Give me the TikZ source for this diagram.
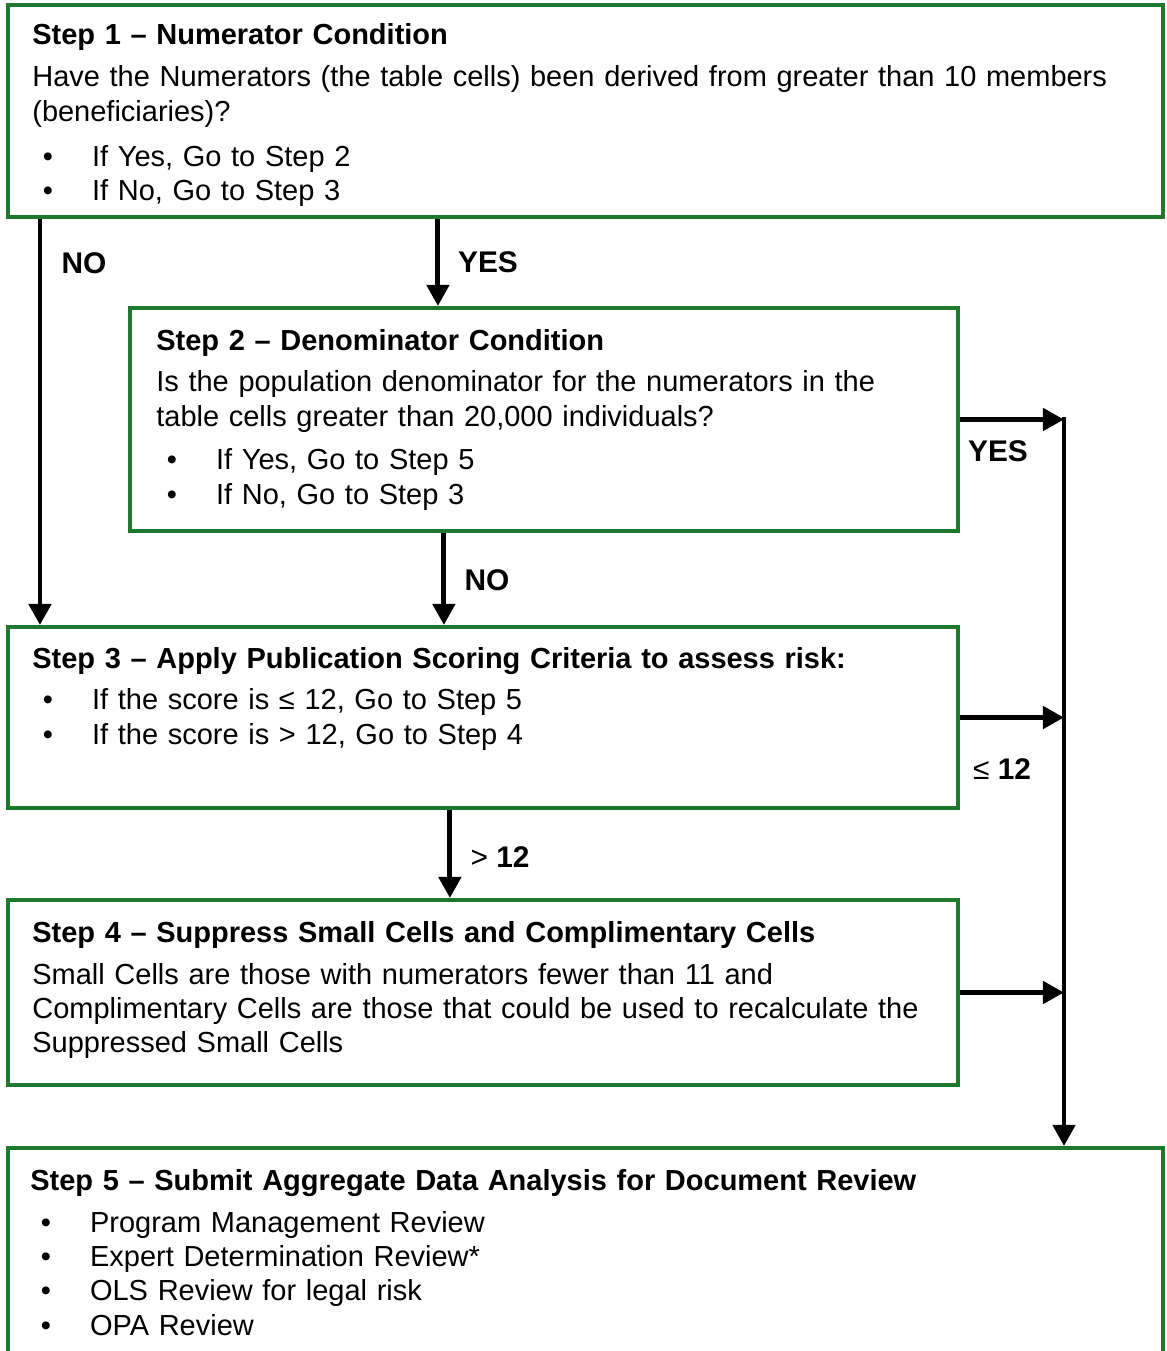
\documentclass[tikz,border=0pt]{standalone}
\usepackage{fontspec}
\setmainfont{Liberation Sans}
\usetikzlibrary{positioning,fit,arrows.meta}
\definecolor{boxgreen}{RGB}{30,120,45}
\newcommand{\bitem}{\hspace*{6pt}\makebox[28pt][l]{\textbullet}}
\tikzset{
  stepbox/.style={draw=boxgreen, line width=2.3pt, inner sep=0pt},
  steptext/.style={anchor=base west, inner sep=0pt, text width=22.5cm, align=left,
    font=\fontsize{16.5}{19.6}\selectfont},
  arr/.style={line width=2.8pt, -{Triangle[length=12pt,width=12.5pt]}},
  lbl/.style={font=\fontsize{17}{20}\selectfont\bfseries},
}
\begin{document}
\begin{tikzpicture}[x=0.02cm, y=-0.02cm]
      \useasboundingbox (0,0) rectangle (1166,1351);

      % boxes
      \node[stepbox, fit={(8,5) (1163,217)}] (s1) {};
      \node[stepbox, fit={(130,308) (958,531)}] (s2) {};
      \node[stepbox, fit={(8,627) (958,808)}] (s3) {};
      \node[stepbox, fit={(8,900) (958,1085)}] (s4) {};
      \node[stepbox, fit={(8,1148) (1163,1380)}] (s5) {};

      % texts
      \node[steptext] (t1) at (32,45) {\textbf{Step 1 -- Numerator Condition}\\[4.3pt]
        Have the Numerators (the table cells) been derived from greater than 10 members\\
        (beneficiaries)?\\[6pt]
        \bitem If Yes, Go to Step 2\\
        \bitem If No, Go to Step 3};
      \node[steptext] (t2) at (156,350) {\textbf{Step 2 -- Denominator Condition}\\[4.3pt]
        Is the population denominator for the numerators in the\\
        table cells greater than 20,000 individuals?\\[5pt]
        \bitem If Yes, Go to Step 5\\
        \bitem If No, Go to Step 3};
      \node[steptext] (t3) at (32,668) {\textbf{Step 3 -- Apply Publication Scoring Criteria to assess risk:}\\[4.3pt]
        \bitem If the score is ≤ 12, Go to Step 5\\
        \bitem If the score is > 12, Go to Step 4};
      \node[steptext] (t4) at (32,942) {\textbf{Step 4 -- Suppress Small Cells and Complimentary Cells}\\[4.3pt]
        Small Cells are those with numerators fewer than 11 and\\
        Complimentary Cells are those that could be used to recalculate the\\
        Suppressed Small Cells};
      \node[steptext] (t5) at (30,1190) {\textbf{Step 5 -- Submit Aggregate Data Analysis for Document Review}\\[4.3pt]
        \bitem Program Management Review\\
        \bitem Expert Determination Review*\\
        \bitem OLS Review for legal risk\\
        \bitem OPA Review};

      % arrows down
      \path ([xshift=0.68cm]s3.north west) coordinate (noleft);
      \path ([xshift=6.2cm]s2.north west) coordinate (yesin);
      \path ([xshift=8.76cm]s3.north west) coordinate (noin);
      \path ([xshift=8.88cm]s4.north west) coordinate (gtin);
      \draw[arr] (s1.south -| noleft) -- (noleft);
      \draw[arr] (s1.south -| yesin) -- (yesin);
      \draw[arr] (s2.south -| noin) -- (noin);
      \draw[arr] (s3.south -| gtin) -- (gtin);

      % arrows right to step 5
      \path ([xshift=2.08cm]s2.east) coordinate (trunk);
      \draw[arr] (s2.east) -- (trunk);
      \draw[arr] (s3.east) -- (s3.east -| trunk);
      \draw[arr] (s4.east) -- (s4.east -| trunk);
      \draw[arr] ([yshift=1.4pt]trunk) -- (trunk |- s5.north);

      % labels
      \node[lbl] (lblno1) at (84,263) {NO};
      \node[lbl] (lblyes1) at (488,262) {YES};
      \node[lbl] (lblyes2) at (998,451) {YES};
      \node[lbl] (lblno2) at (487,580) {NO};
      \node[lbl] (lblle) at (1002,769) {{\mdseries ≤} 12};
      \node[lbl] (lblgt) at (500,857) {{\mdseries >} 12};

\end{tikzpicture}
\end{document}
